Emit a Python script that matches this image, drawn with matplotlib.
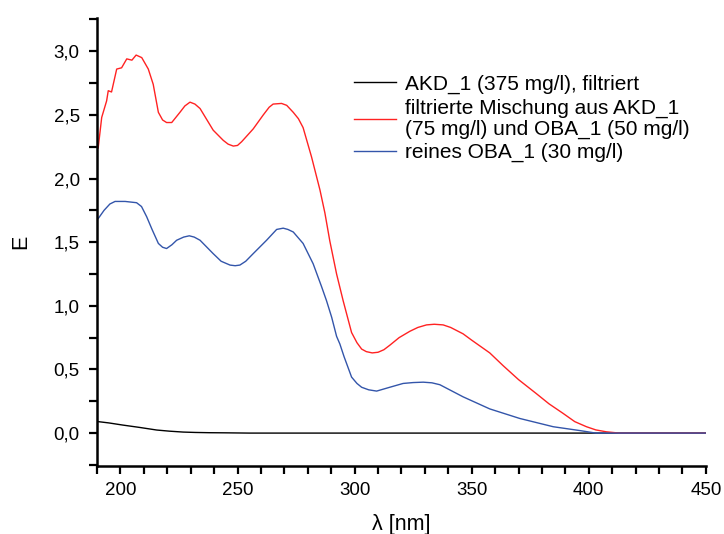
import numpy as np
import matplotlib.pyplot as plt
from matplotlib.ticker import MultipleLocator, FuncFormatter

plt.rcParams['font.family'] = ['Liberation Sans', 'DejaVu Sans']

# Wellenlaengen (nm) und Extinktionen
wl_akd = [190.5, 195, 201, 208, 215.5, 221, 226.8, 232, 238, 245, 255, 300, 350, 400, 450]
e_akd = [0.09, 0.08, 0.063, 0.045, 0.024, 0.015, 0.008, 0.005, 0.003, 0.002, 0.0, 0.0, 0.0, 0.0, 0.0]

wl_mix = [190.5, 192, 194.1, 194.8, 196.2, 198.4, 200.5, 202.7, 204.9, 206.7, 209.1, 211.9,
          214, 216.2, 218, 219.7, 221.9, 225.4, 227.5, 229.7, 231.8, 234, 239.6, 243.9, 246,
          248.2, 250, 251.8, 256.7, 261, 263.5, 265.2, 268.8, 271, 273.8, 276, 278, 281.6,
          285.2, 287.3, 289.4, 292.3, 295.1, 298.7, 301, 303, 305, 307.5, 310, 312.5, 315,
          319, 323.6, 327, 330.7, 334, 337.8, 341, 346.3, 350, 357.7, 363.4, 370, 377.6,
          383, 389, 394, 399, 403, 407.5, 413, 450]
e_mix = [2.24, 2.48, 2.61, 2.69, 2.68, 2.86, 2.87, 2.94, 2.93, 2.97, 2.95, 2.86,
         2.74, 2.52, 2.46, 2.44, 2.44, 2.52, 2.57, 2.60, 2.585, 2.55, 2.38, 2.30, 2.27,
         2.255, 2.26, 2.29, 2.39, 2.50, 2.56, 2.585, 2.59, 2.575, 2.52, 2.47, 2.40, 2.17,
         1.91, 1.73, 1.51, 1.25, 1.04, 0.79, 0.71, 0.66, 0.64, 0.63, 0.635, 0.655, 0.69,
         0.75, 0.80, 0.83, 0.85, 0.855, 0.85, 0.83, 0.78, 0.73, 0.63, 0.53, 0.42, 0.31,
         0.23, 0.155, 0.09, 0.05, 0.025, 0.01, 0.0, 0.0]

wl_oba = [190.5, 193, 195.5, 197.7, 202, 206.9, 209, 211.2, 213.5, 216.2, 218, 219.7, 222,
          224, 227, 229.4, 231.5, 234, 239.6, 243, 246.8, 249, 251, 253.5, 256.7, 262.4,
          266.7, 269.5, 271.5, 273.8, 278, 282.3, 285.9, 288, 290.2, 292.3, 293.7, 295.5,
          298.7, 301, 303, 306, 309.4, 315, 320.7, 325, 329.3, 333, 336.4, 346.3, 357.7,
          370.5, 384.8, 396.1, 403, 450]
e_oba = [1.685, 1.75, 1.80, 1.82, 1.82, 1.81, 1.78, 1.70, 1.60, 1.49, 1.46, 1.45, 1.48,
         1.515, 1.54, 1.55, 1.54, 1.515, 1.41, 1.35, 1.32, 1.315, 1.32, 1.35, 1.41, 1.515,
         1.60, 1.61, 1.60, 1.58, 1.49, 1.33, 1.15, 1.04, 0.91, 0.76, 0.70, 0.60, 0.44,
         0.39, 0.36, 0.34, 0.33, 0.36, 0.39, 0.397, 0.40, 0.395, 0.38, 0.285, 0.19,
         0.115, 0.05, 0.02, 0.0, 0.0]

labels = ["AKD_1 (375 mg/l), filtriert",
          "filtrierte Mischung aus AKD_1\n(75 mg/l) und OBA_1 (50 mg/l)",
          "reines OBA_1 (30 mg/l)"]

fig = plt.figure(figsize=(7.24, 5.34), dpi=100)
ax = fig.add_axes([0.134, 0.127, 0.841, 0.839])

ax.plot(wl_akd, e_akd, color='black', lw=1.0, label=labels[0])
ax.plot(wl_mix, e_mix, color='#ff2222', lw=1.0, label=labels[1])
ax.plot(wl_oba, e_oba, color='#3355aa', lw=1.0, label=labels[2])

ax.set_xlim(190, 450)
ax.set_ylim(-0.26, 3.26)
ax.xaxis.set_major_locator(MultipleLocator(50))
ax.xaxis.set_minor_locator(MultipleLocator(10))
ax.yaxis.set_major_locator(MultipleLocator(0.5))
ax.yaxis.set_minor_locator(MultipleLocator(0.25))
ax.yaxis.set_major_formatter(FuncFormatter(lambda v, p: f"{v:.1f}".replace('.', ',')))

for s in ['top', 'right']:
    ax.spines[s].set_visible(False)
for s in ['left', 'bottom']:
    ax.spines[s].set_linewidth(1.8)
ax.tick_params(which='both', direction='out', length=5.5, width=1.6, labelsize=13.5)
ax.tick_params(axis='x', pad=6)
ax.tick_params(axis='y', pad=7)

ax.set_xlabel("λ [nm]", fontsize=15.5, labelpad=11)
ax.set_ylabel("E", fontsize=15.5, labelpad=16)

leg = ax.legend(loc='upper left', bbox_to_anchor=(0.475, 0.88), bbox_transform=fig.transFigure,
                frameon=False, fontsize=15, handlelength=2.0, handletextpad=0.45,
                labelspacing=0.22, borderpad=0)
for t in leg.get_texts():
    t.set_linespacing(1.12)

plt.savefig("out.png", dpi=100)
